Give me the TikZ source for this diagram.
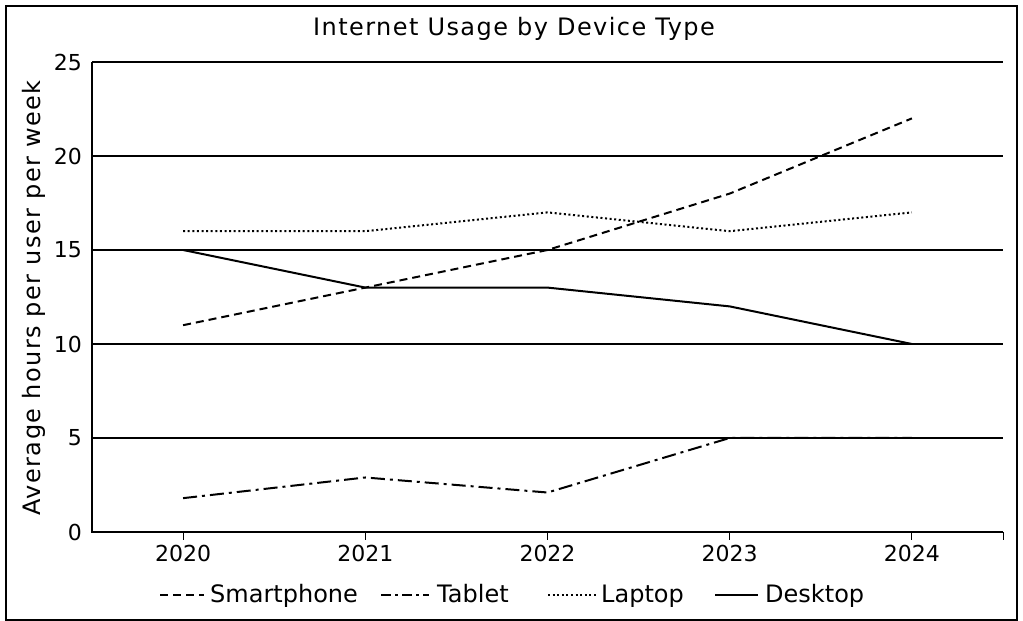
\documentclass[tikz,border=0pt]{standalone}
\usepackage{fontspec}
\setmainfont{DejaVu Sans}
\newfontfamily\spacedfont[LetterSpace=6]{DejaVu Sans}
\begin{document}
\begin{tikzpicture}[x=1pt,y=1pt]
          \tikzstyle{ticklabel}=[font=\fontsize{22}{24}\selectfont,inner sep=0pt]
          \tikzstyle{keylabel}=[font=\fontsize{24}{26}\selectfont,inner sep=0pt,anchor=base west]
          \tikzstyle{grid}=[draw=black,line width=1.2pt]
          \tikzstyle{series}=[draw=black,line width=2pt]
          \tikzstyle{smart}=[series,dash pattern=on 8pt off 5pt]
          \tikzstyle{tab}=[series,dash pattern=on 14pt off 5pt on 3pt off 5pt]
          \tikzstyle{lap}=[series,dash pattern=on 2pt off 2.6pt]
          \tikzstyle{desk}=[series]
          \useasboundingbox (0,0) rectangle (1023,621);
          % frame and title
          \draw[line width=1.2pt] (6,1) rectangle (1017,615);
          \node [font=\spacedfont\fontsize{24}{26}\selectfont,anchor=base,inner sep=0pt] (title) at (514,585) {Internet Usage by Device Type};
          \node [font=\spacedfont\fontsize{24}{26}\selectfont,rotate=90,inner sep=0pt] (ylabel) at (34,323) {Average hours per user per week};
          \begin{scope}[shift={(92,89)},x=182.2pt,y=18.8pt]
              % grid and axes
              \foreach \v in {5,10,15,20,25} {
                  \draw[grid] (0,\v) -- (5,\v);
                  \node [ticklabel,anchor=east] at (-0.055,\v) {\v};
              }
              \node [ticklabel,anchor=east] at (-0.055,0) {0};
              \draw[grid] (0,25) -- (0,0) -- (5,0);
              \foreach \i/\yr in {0/2020,1/2021,2/2022,3/2023,4/2024} {
                  \draw[line width=1pt] (\i+0.5,0) -- (\i+0.5,-0.45);
                  \node [ticklabel,anchor=base] at (\i+0.5,-1.55) {\yr};
              }
              \draw[line width=1pt] (5,0) -- (5,-0.45);
              % smartphone
              \coordinate (s1) at (0.5,11);
              \coordinate (s2) at (1.5,13);
              \coordinate (s3) at (2.5,15);
              \coordinate (s4) at (3.5,18);
              \coordinate (s5) at (4.5,22);
              \path[smart] (s1) -- (s2) -- (s3) -- (s4) -- (s5);
              % tablet
              \coordinate (t1) at (0.5,1.8);
              \coordinate (t2) at (1.5,2.9);
              \coordinate (t3) at (2.5,2.1);
              \coordinate (t4) at (3.5,5);
              \coordinate (t5) at (4.5,5);
              \path[tab] (t1) -- (t2) -- (t3) -- (t4) -- (t5);
              % laptop
              \coordinate (l1) at (0.5,16);
              \coordinate (l2) at (1.5,16);
              \coordinate (l3) at (2.5,17);
              \coordinate (l4) at (3.5,16);
              \coordinate (l5) at (4.5,17);
              \path[lap] (l1) -- (l2) -- (l3) -- (l4) -- (l5);
              % desktop
              \coordinate (d1) at (0.5,15);
              \coordinate (d2) at (1.5,13);
              \coordinate (d3) at (2.5,13);
              \coordinate (d4) at (3.5,12);
              \coordinate (d5) at (4.5,10);
              \path[desk] (d1) -- (d2) -- (d3) -- (d4) -- (d5);
          \end{scope}
          % legend
          \coordinate (ka) at (160,26);
          \coordinate (kb) at (204,26);
          \node [keylabel] (smartlbl) at (210,18) {Smartphone};
          \path[smart] (ka) -- (kb);
          \coordinate (kc) at (381,26);
          \coordinate (kd) at (429,26);
          \node [keylabel] (tablbl) at (437,18) {Tablet};
          \path[tab,dash pattern=on 10pt off 4pt on 3pt off 4pt] (kc) -- (kd);
          \coordinate (ke) at (548,26);
          \coordinate (kf) at (597,26);
          \node [keylabel] (laplbl) at (601,18) {Laptop};
          \path[lap] (ke) -- (kf);
          \coordinate (kg) at (715,26);
          \coordinate (kh) at (758,26);
          \node [keylabel] (desklbl) at (765,18) {Desktop};
          \path[desk] (kg) -- (kh);
        \end{tikzpicture}
\end{document}
